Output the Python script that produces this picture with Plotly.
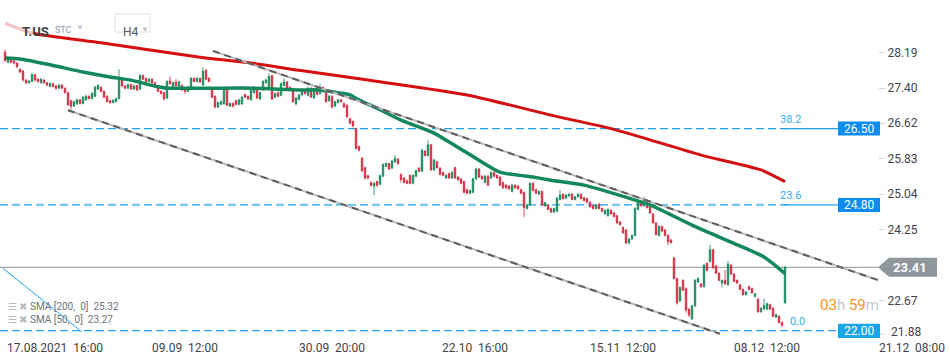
import plotly.graph_objects as go

# ---------------- data ----------------
opens = [
    28.20, 27.98, 28.06, 28.00, 27.96, 27.82, 27.78, 27.58, 27.52, 27.55,
    27.70, 27.60, 27.52, 27.58, 27.52, 27.44, 27.50, 27.45, 27.40, 27.47,
    27.40, 27.30, 27.12, 27.00, 27.05, 27.14, 27.06, 27.14, 27.22, 27.17,
    27.22, 27.38, 27.42, 27.33, 27.22, 27.12, 27.08, 27.10, 27.17, 27.60,
    27.45, 27.40, 27.48, 27.38, 27.46, 27.38, 27.68, 27.62, 27.55, 27.60,
    27.52, 27.44, 27.33, 27.30, 27.18, 27.56, 27.44, 27.54, 27.44, 27.46,
    27.40, 27.33, 27.42, 27.62, 27.55, 27.62, 27.47, 27.80, 27.62, 27.38,
    27.22, 26.98, 27.04, 27.05, 27.40, 27.00, 27.06, 27.12, 27.04, 27.05,
    27.26, 27.22, 27.14, 27.30, 27.38, 27.16, 27.36, 27.52, 27.40, 27.68,
    27.20, 27.30, 27.24, 27.46, 27.54, 27.42, 27.36, 27.05, 27.15, 27.25,
    27.34, 27.24, 27.40, 27.18, 27.38, 27.28, 27.42, 27.32, 27.12, 27.22,
    27.00, 27.08, 27.14, 27.06, 27.02, 26.72, 26.66, 26.50, 26.10, 25.84,
    25.63, 25.45, 25.30, 25.22, 25.32, 25.26, 25.44, 25.66, 25.72, 25.62,
    25.76, 25.82, 25.48, 25.40, 25.34, 25.46, 25.28, 25.44, 25.62, 25.55,
    26.00, 25.90, 26.14, 25.58, 25.76, 25.62, 25.52, 25.40, 25.50, 25.40,
    25.63, 25.42, 25.38, 25.32, 25.14, 25.06, 25.08, 25.38, 25.60, 25.44,
    25.30, 25.44, 25.40, 25.52, 25.46, 25.42, 25.30, 25.24, 25.22, 25.10,
    25.24, 25.22, 25.14, 25.08, 24.72, 24.80, 25.28, 25.14, 25.04, 25.10,
    24.78, 24.80, 24.72, 24.64, 24.66, 24.92, 25.04, 24.95, 25.00, 25.04,
    24.92, 24.98, 25.04, 24.96, 24.94, 24.86, 24.78, 24.72, 24.82, 24.72,
    24.60, 24.56, 24.68, 24.62, 24.56, 24.42, 24.30, 24.24, 23.95, 24.04,
    24.12, 24.70, 24.88, 24.78, 24.90, 24.76, 24.60, 24.40, 24.12, 24.32,
    24.24, 24.12, 24.02, 23.62, 23.16, 22.66, 23.12, 22.94, 22.48, 22.26,
    22.55, 23.08, 23.04, 22.98, 23.50, 23.54, 23.80, 23.44, 23.28, 23.06,
    23.12, 23.02, 23.46, 23.26, 23.12, 23.02, 22.92, 22.80, 22.98, 22.94,
    22.76, 22.70, 22.42, 22.48, 22.48, 22.58, 22.50, 22.30, 22.32, 22.18,
    22.62,
]
highs = [
    28.26, 28.10, 28.08, 28.03, 27.98, 27.84, 27.80, 27.60, 27.58, 27.74,
    27.72, 27.62, 27.63, 27.60, 27.54, 27.53, 27.52, 27.47, 27.50, 27.49,
    27.42, 27.32, 27.14, 27.12, 27.17, 27.16, 27.23, 27.26, 27.24, 27.31,
    27.46, 27.49, 27.44, 27.35, 27.24, 27.14, 27.15, 27.19, 27.82, 27.62,
    27.47, 27.51, 27.50, 27.48, 27.48, 27.72, 27.70, 27.64, 27.63, 27.62,
    27.54, 27.46, 27.35, 27.32, 27.58, 27.66, 27.55, 27.60, 27.57, 27.48,
    27.42, 27.45, 27.65, 27.64, 27.65, 27.64, 27.86, 27.82, 27.64, 27.40,
    27.24, 27.10, 27.13, 27.43, 27.42, 27.08, 27.08, 27.14, 27.16, 27.23,
    27.28, 27.24, 27.39, 27.45, 27.40, 27.33, 27.58, 27.62, 27.73, 27.70,
    27.30, 27.32, 27.53, 27.62, 27.56, 27.44, 27.38, 27.20, 27.28, 27.35,
    27.36, 27.44, 27.42, 27.41, 27.40, 27.50, 27.44, 27.34, 27.25, 27.24,
    27.12, 27.16, 27.16, 27.08, 27.04, 26.74, 26.68, 26.52, 26.12, 25.86,
    25.65, 25.47, 25.32, 25.30, 25.34, 25.48, 25.73, 25.75, 25.74, 25.81,
    25.91, 25.84, 25.50, 25.42, 25.36, 25.48, 25.48, 25.59, 25.64, 26.05,
    26.02, 26.24, 26.16, 25.83, 25.78, 25.64, 25.54, 25.48, 25.52, 25.55,
    25.65, 25.44, 25.40, 25.34, 25.16, 25.14, 25.41, 25.63, 25.62, 25.46,
    25.47, 25.46, 25.55, 25.54, 25.48, 25.44, 25.32, 25.26, 25.24, 25.27,
    25.26, 25.24, 25.16, 25.10, 24.83, 25.31, 25.30, 25.16, 25.12, 25.12,
    24.87, 24.82, 24.74, 24.74, 24.98, 25.13, 25.06, 25.04, 25.06, 25.06,
    25.00, 25.06, 25.06, 24.98, 24.96, 24.88, 24.80, 24.82, 24.84, 24.74,
    24.70, 24.72, 24.70, 24.64, 24.58, 24.44, 24.32, 24.26, 24.06, 24.14,
    24.75, 24.89, 24.90, 24.98, 24.92, 24.78, 24.62, 24.42, 24.35, 24.34,
    24.26, 24.14, 24.04, 23.64, 23.18, 22.99, 23.14, 22.96, 22.50, 22.58,
    23.15, 23.19, 23.06, 23.49, 23.52, 23.91, 23.82, 23.46, 23.30, 23.14,
    23.35, 23.55, 23.48, 23.28, 23.14, 23.04, 22.94, 22.88, 23.00, 22.96,
    22.84, 22.72, 22.52, 22.72, 22.62, 22.60, 22.52, 22.38, 22.34, 22.20,
    23.44,
]
lows = [
    27.98, 27.96, 27.95, 27.93, 27.85, 27.73, 27.55, 27.49, 27.50, 27.53,
    27.55, 27.52, 27.50, 27.50, 27.44, 27.42, 27.42, 27.36, 27.38, 27.38,
    27.28, 27.00, 26.92, 26.98, 27.03, 27.04, 27.04, 27.12, 27.15, 27.15,
    27.20, 27.36, 27.31, 27.18, 27.08, 27.05, 27.06, 27.08, 27.15, 27.42,
    27.37, 27.38, 27.36, 27.36, 27.34, 27.36, 27.58, 27.52, 27.53, 27.50,
    27.43, 27.31, 27.26, 27.13, 27.16, 27.48, 27.42, 27.44, 27.42, 27.34,
    27.28, 27.31, 27.40, 27.53, 27.53, 27.52, 27.45, 27.58, 27.53, 27.18,
    26.95, 26.96, 27.02, 27.03, 27.00, 26.98, 26.97, 27.02, 27.02, 27.03,
    27.18, 27.14, 27.12, 27.28, 27.16, 27.14, 27.34, 27.50, 27.38, 27.14,
    27.18, 27.20, 27.22, 27.44, 27.36, 27.34, 27.08, 27.02, 27.13, 27.23,
    27.26, 27.22, 27.18, 27.16, 27.24, 27.26, 27.30, 27.08, 27.10, 26.95,
    26.98, 27.06, 27.08, 26.96, 26.74, 26.60, 26.53, 26.03, 25.99, 25.53,
    25.37, 25.37, 25.21, 25.02, 25.20, 25.24, 25.42, 25.64, 25.58, 25.60,
    25.74, 25.70, 25.30, 25.28, 25.26, 25.26, 25.26, 25.42, 25.53, 25.53,
    25.88, 25.88, 25.56, 25.56, 25.61, 25.46, 25.44, 25.38, 25.38, 25.38,
    25.38, 25.34, 25.26, 25.06, 25.04, 25.04, 25.06, 25.36, 25.40, 25.36,
    25.28, 25.22, 25.38, 25.42, 25.38, 25.22, 25.16, 25.16, 25.14, 25.08,
    25.16, 25.14, 25.04, 24.53, 24.70, 24.78, 25.10, 25.04, 25.02, 24.78,
    24.76, 24.68, 24.62, 24.62, 24.64, 24.90, 24.92, 24.93, 24.98, 24.90,
    24.90, 24.96, 24.92, 24.88, 24.84, 24.74, 24.70, 24.70, 24.70, 24.64,
    24.58, 24.54, 24.58, 24.52, 24.38, 24.34, 24.16, 23.93, 23.93, 24.02,
    24.10, 24.68, 24.76, 24.76, 24.72, 24.60, 24.38, 24.12, 24.10, 24.20,
    24.10, 23.90, 23.94, 23.14, 22.58, 22.64, 22.88, 22.40, 22.30, 22.24,
    22.53, 23.06, 22.96, 22.96, 23.32, 23.52, 23.38, 23.26, 23.10, 22.96,
    23.02, 23.00, 23.24, 23.08, 23.04, 22.90, 22.78, 22.78, 22.90, 22.82,
    22.74, 22.40, 22.40, 22.46, 22.46, 22.46, 22.30, 22.28, 22.16, 22.08,
    22.60,
]
closes = [
    28.02, 28.06, 27.98, 27.96, 27.88, 27.76, 27.58, 27.52, 27.56, 27.70,
    27.58, 27.55, 27.60, 27.52, 27.47, 27.50, 27.44, 27.40, 27.47, 27.40,
    27.30, 27.03, 27.00, 27.10, 27.14, 27.06, 27.20, 27.22, 27.17, 27.28,
    27.42, 27.46, 27.33, 27.20, 27.10, 27.08, 27.13, 27.17, 27.60, 27.45,
    27.40, 27.48, 27.38, 27.45, 27.36, 27.68, 27.60, 27.54, 27.60, 27.52,
    27.45, 27.33, 27.28, 27.16, 27.55, 27.50, 27.52, 27.46, 27.54, 27.36,
    27.33, 27.42, 27.62, 27.55, 27.62, 27.54, 27.78, 27.60, 27.55, 27.20,
    26.98, 27.08, 27.10, 27.40, 27.02, 27.06, 27.00, 27.04, 27.14, 27.20,
    27.20, 27.16, 27.36, 27.42, 27.18, 27.30, 27.55, 27.58, 27.66, 27.16,
    27.28, 27.22, 27.50, 27.54, 27.38, 27.36, 27.10, 27.18, 27.25, 27.32,
    27.28, 27.40, 27.20, 27.38, 27.26, 27.42, 27.32, 27.10, 27.22, 26.98,
    27.10, 27.14, 27.10, 26.98, 26.76, 26.62, 26.56, 26.06, 26.02, 25.56,
    25.40, 25.40, 25.24, 25.28, 25.24, 25.45, 25.70, 25.72, 25.60, 25.78,
    25.84, 25.72, 25.36, 25.30, 25.28, 25.28, 25.46, 25.56, 25.55, 26.02,
    25.90, 26.14, 25.58, 25.80, 25.63, 25.48, 25.46, 25.46, 25.40, 25.52,
    25.40, 25.36, 25.28, 25.08, 25.06, 25.12, 25.38, 25.60, 25.42, 25.38,
    25.44, 25.24, 25.52, 25.44, 25.40, 25.24, 25.18, 25.18, 25.16, 25.24,
    25.18, 25.16, 25.06, 24.74, 24.80, 25.28, 25.12, 25.06, 25.10, 24.80,
    24.85, 24.70, 24.64, 24.72, 24.95, 25.02, 24.94, 25.02, 25.04, 24.92,
    24.98, 25.04, 24.94, 24.90, 24.86, 24.76, 24.72, 24.80, 24.72, 24.66,
    24.68, 24.70, 24.60, 24.54, 24.40, 24.36, 24.18, 23.95, 24.04, 24.12,
    24.72, 24.86, 24.78, 24.90, 24.74, 24.62, 24.40, 24.14, 24.32, 24.22,
    24.12, 23.98, 23.96, 23.16, 22.62, 22.96, 22.90, 22.46, 22.35, 22.55,
    23.12, 23.16, 22.98, 23.46, 23.34, 23.80, 23.40, 23.28, 23.12, 23.12,
    23.04, 23.48, 23.26, 23.10, 23.06, 22.92, 22.80, 22.86, 22.92, 22.84,
    22.82, 22.42, 22.50, 22.56, 22.60, 22.48, 22.32, 22.36, 22.18, 22.12,
    23.41,
]
candle_idx = list(range(len(closes)))

# moving averages (candle index, value)
sma200_idx = [0, 9, 32, 65, 82, 98, 121, 154, 182, 202, 215, 232, 252, 260]
sma200_val = [28.85, 28.63, 28.41, 28.09, 27.96, 27.80, 27.58, 27.25, 26.80,
              26.50, 26.25, 25.91, 25.58, 25.32]
sma50_idx = [0, 5, 15, 26, 35, 42, 51, 54, 68, 83, 98, 105, 112, 115, 118, 125,
             132, 143, 154, 165, 176, 182, 193, 208, 215, 229, 242, 253, 260]
sma50_val = [28.07, 28.05, 27.92, 27.76, 27.65, 27.58, 27.43, 27.40, 27.40,
             27.40, 27.36, 27.36, 27.29, 27.25, 27.14, 26.92, 26.69, 26.40,
             25.96, 25.53, 25.42, 25.35, 25.24, 24.95, 24.80, 24.35, 23.97,
             23.64, 23.27]

# axis labels
y_ticks = [28.19, 27.40, 26.62, 25.83, 25.04, 24.25, 22.67]
y_tick_bottom = 21.88
x_label_idx = [0, 48.3, 97.3, 145, 194.3, 242.3, 290.7]
x_labels = ["17.08.2021  16:00", "09.09  12:00", "30.09  20:00", "22.10  16:00",
            "15.11  12:00", "08.12  12:00", "21.12  08:00"]

# drawing tools
fib_levels = [26.50, 24.80, 22.00]
fib_names = ["38.2", "23.6", "0.0"]
last_price = 23.41
channel_upper = ([69.3, 291.7], [28.23, 23.11])
channel_lower = ([21.0, 238.3], [26.91, 21.93])
fib_diagonal = ([-0.7, 25.7], [23.39, 21.97])
sma_labels = ["SMA [200,  0]  25.32", "SMA [50,  0]  23.27"]

# ---------------- layout helpers ----------------
PLOT_W = 878.0
PLOT_H = 338.0
X_RANGE = [-1.667, 291.0]
Y_RANGE = [21.836, 29.364]
FONT = "Roboto, Arial, sans-serif"

def px(xpix):
    return xpix / PLOT_W

def py(ypix):
    return 1 - ypix / PLOT_H

GREEN = "#15895a"
RED = "#d7263d"
FIB = "#1fa3ec"

fig = go.Figure()

fig.add_trace(go.Scatter(x=sma200_idx, y=sma200_val, mode="lines",
                         line=dict(color="#d30f0f", width=3, shape="spline", smoothing=0.6),
                         hoverinfo="skip", showlegend=False))
fig.add_trace(go.Scatter(x=sma50_idx, y=sma50_val, mode="lines",
                         line=dict(color="#13885a", width=3.5, shape="spline", smoothing=0.6),
                         hoverinfo="skip", showlegend=False))

fig.add_trace(go.Candlestick(
    x=candle_idx, open=opens, high=highs, low=lows, close=closes,
    increasing=dict(line=dict(color=GREEN, width=0.8), fillcolor=GREEN),
    decreasing=dict(line=dict(color=RED, width=0.8), fillcolor=RED),
    whiskerwidth=0, showlegend=False, hoverinfo="skip"))

shapes = []
annotations = []

# fib dashed lines, connectors, boxes
fib_box_colors = ["#0b8cf0", "#0b8cf0", "#1aa5ea"]
for lvl, name, bc in zip(fib_levels, fib_names, fib_box_colors):
    shapes.append(dict(type="line", xref="x", yref="y", x0=X_RANGE[0], x1=262 if lvl > 23 else 277,
                       y0=lvl, y1=lvl, layer="below",
                       line=dict(color=FIB, width=1.3, dash="8px,4px")))
    if lvl > 23:
        shapes.append(dict(type="line", xref="x", yref="y", x0=259.5, x1=277.7,
                           y0=lvl, y1=lvl, layer="below",
                           line=dict(color=FIB, width=1.3)))
    half = 7 / 44.9
    y0 = lvl - half
    if lvl < 23:
        y0 = Y_RANGE[0]
    shapes.append(dict(type="rect", xref="paper", yref="y", x0=px(838), x1=px(880),
                       y0=y0, y1=lvl + half, fillcolor=bc, line=dict(width=0), layer="above"))
    annotations.append(dict(x=px(859), y=(y0 + lvl + half) / 2, xref="paper", yref="y",
                            xanchor="center", yanchor="middle",
                            text=f"{lvl:.2f}", showarrow=False,
                            font=dict(family=FONT, size=12, color="white")))
    annotations.append(dict(x=257.7 if lvl > 23 else 261.0, y=lvl + 0.2, xref="x", yref="y",
                            text=name, showarrow=False, xanchor="left",
                            font=dict(family=FONT, size=11, color="#38acef")))

# current price line and label
shapes.append(dict(type="line", xref="paper", yref="y", x0=0, x1=1, y0=last_price, y1=last_price,
                   layer="below", line=dict(color="#8d979c", width=1)))
h = 9.5 / 44.9
shapes.append(dict(type="path", xref="paper", yref="y", layer="above",
                   path=(f"M {px(878)},{last_price} L {px(889)},{last_price + h} "
                         f"L {px(937)},{last_price + h} L {px(937)},{last_price - h} "
                         f"L {px(889)},{last_price - h} Z"),
                   fillcolor="#8d979c", line=dict(width=0)))
annotations.append(dict(x=px(910), y=last_price, xref="paper", yref="y", text="<b>23.41</b>",
                        xanchor="center", yanchor="middle",
                        showarrow=False, font=dict(family=FONT, size=13, color="white")))

# channel lines (light solid + darker dashes)
for xs, ys in (channel_upper, channel_lower):
    shapes.append(dict(type="line", xref="x", yref="y", x0=xs[0], x1=xs[1], y0=ys[0], y1=ys[1],
                       layer="above", line=dict(color="#b9b9b9", width=2)))
    shapes.append(dict(type="line", xref="x", yref="y", x0=xs[0], x1=xs[1], y0=ys[0], y1=ys[1],
                       layer="above", line=dict(color="#5e5e5e", width=2, dash="7px,5px")))

# fib diagonal
shapes.append(dict(type="line", xref="x", yref="y", x0=fib_diagonal[0][0], x1=fib_diagonal[0][1],
                   y0=fib_diagonal[1][0], y1=fib_diagonal[1][1], layer="above",
                   line=dict(color=FIB, width=1)))

# header veil
shapes.append(dict(type="rect", xref="paper", yref="paper", x0=0, x1=px(34), y0=py(38), y1=py(14),
                   fillcolor="rgba(255,255,255,0.75)", line=dict(width=0), layer="above"))
# H4 box
shapes.append(dict(type="rect", xref="paper", yref="paper", x0=px(115), x1=px(150),
                   y0=py(32), y1=py(14), fillcolor="white",
                   line=dict(color="#e0e0e0", width=1), layer="above"))

# header texts
annotations.append(dict(x=px(20), y=py(22), xref="paper", yref="paper", xanchor="left",
                        text="<b>T.US</b>", showarrow=False,
                        font=dict(family=FONT, size=13, color="#3a3f44")))
annotations.append(dict(x=px(53), y=py(23), xref="paper", yref="paper", xanchor="left",
                        text="STC", showarrow=False,
                        font=dict(family=FONT, size=9, color="#8e9ba5")))
annotations.append(dict(x=px(74), y=py(21), xref="paper", yref="paper", xanchor="left",
                        text="▼", showarrow=False,
                        font=dict(family=FONT, size=8, color="#c0c4c8")))
annotations.append(dict(x=px(121), y=py(23), xref="paper", yref="paper", xanchor="left",
                        text="H4", showarrow=False,
                        font=dict(family=FONT, size=12, color="#555a5f")))
annotations.append(dict(x=px(139), y=py(23), xref="paper", yref="paper", xanchor="left",
                        text="▼", showarrow=False,
                        font=dict(family=FONT, size=8, color="#c0c4c8")))

# SMA legend
for i, lab in enumerate(sma_labels):
    annotations.append(dict(x=px(6), y=py(314 + 13 * i), xref="paper", yref="paper",
                            xanchor="left",
                            text=f"<span style='color:#b4b9be'>☰ ✖</span> {lab}",
                            showarrow=False,
                            font=dict(family=FONT, size=10, color="#6d747b")))

# countdown
annotations.append(dict(x=px(881), y=py(316), xref="paper", yref="paper", xanchor="right",
                        text=("<span style='color:#f7941d'>03</span><span style='color:#c4c8cc'>h</span> "
                              "<span style='color:#f7941d'>59</span><span style='color:#c4c8cc'>m</span>"),
                        showarrow=False, font=dict(family=FONT, size=15)))

# x labels
for xi, lab in zip(x_label_idx, x_labels):
    annotations.append(dict(x=xi, y=0, xref="x", yref="paper", xanchor="left", yanchor="top",
                            yshift=-1, text=lab.replace("  ", "\u00a0\u00a0"), showarrow=False,
                            font=dict(family=FONT, size=12, color="#3f4448")))

# bottom y label (shifted up as in the reference)
annotations.append(dict(x=px(889), y=y_tick_bottom, xref="paper", yref="y", xanchor="left",
                        yshift=4, text=f"{y_tick_bottom:.2f}", showarrow=False,
                        font=dict(family=FONT, size=12, color="#3f4448")))
shapes.append(dict(type="line", xref="paper", yref="paper", x0=px(880), x1=px(885),
                   y0=py(334), y1=py(334), line=dict(color="#d5d5d5", width=1)))

fig.update_layout(
    width=950, height=361,
    margin=dict(l=0, r=72, t=0, b=23),
    paper_bgcolor="white", plot_bgcolor="white",
    shapes=shapes, annotations=annotations,
    showlegend=False,
    xaxis=dict(range=X_RANGE, showgrid=False, zeroline=False, showticklabels=False,
               showline=False, ticks="", rangeslider=dict(visible=False), fixedrange=True),
    yaxis=dict(range=Y_RANGE, side="right", showgrid=False, zeroline=False,
               tickvals=y_ticks, ticktext=[f"{v:.2f}" for v in y_ticks],
               ticks="outside", ticklen=6, tickcolor="#d5d5d5",
               tickfont=dict(family=FONT, size=12, color="#3f4448"),
               showline=False, fixedrange=True),
)

fig.write_html("out.html", config={"displayModeBar": False},
               post_script="document.body.style.margin='0';document.body.style.overflow='hidden';")
